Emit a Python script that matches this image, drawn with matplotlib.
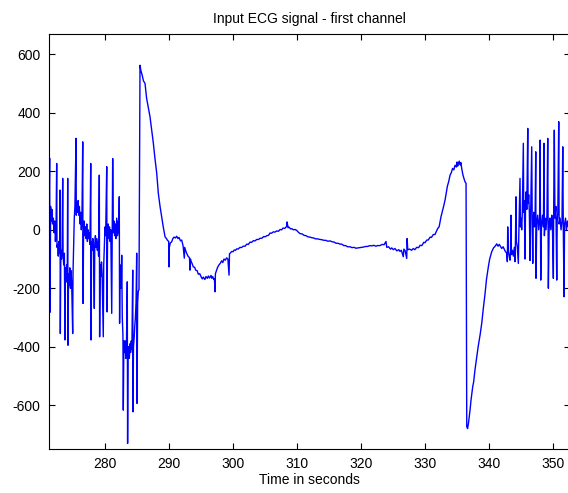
import numpy as np
import matplotlib.pyplot as plt

plt.rcParams['font.family'] = ['Liberation Sans', 'DejaVu Sans']
plt.rcParams['axes.unicode_minus'] = False

# (time in s, amplitude)
# noisy stretch before the first big deflection
onset = [
    (271.25, 60), (271.35, 245), (271.42, -282), (271.50, 80), (271.60, 30),
    (271.70, 70), (271.80, 20), (271.93, 40), (272.05, -10), (272.15, 30),
    (272.25, -40), (272.35, 0), (272.45, 227), (272.50, -60), (272.60, -50),
    (272.70, -90), (272.80, -40), (272.90, -80), (272.97, 136), (273.02, -355),
    (273.10, -70), (273.20, -100), (273.30, -60), (273.39, 176), (273.45, -90),
    (273.55, -120), (273.65, -80), (273.75, -377), (273.80, -130), (273.90, -170),
    (274.00, -120), (274.10, -180), (274.17, 176), (274.22, -395), (274.30, -150),
    (274.40, -190), (274.50, -130), (274.60, -200), (274.70, -140), (274.80, -190),
    (274.95, -355), (275.00, -150), (275.10, -60), (275.20, 40), (275.30, 80),
    (275.47, 313), (275.52, 50), (275.60, 90), (275.70, 60), (275.80, 100),
    (275.90, 50), (276.00, 80), (276.10, 20), (276.20, 60), (276.30, 0),
    (276.40, 40), (276.52, 301), (276.57, -252), (276.65, -10), (276.75, 30),
    (276.85, -20), (276.95, 10), (277.05, -30), (277.15, 20), (277.25, -40),
    (277.35, 0), (277.45, -30), (277.55, -10), (277.65, -50), (277.77, 227),
    (277.82, -377), (277.90, -40), (278.00, -70), (278.10, -30), (278.20, -60),
    (278.33, -269), (278.40, -50), (278.50, -20), (278.60, -60), (278.70, -30),
    (278.80, -70), (278.90, -40), (279.00, -90), (279.11, 187), (279.16, -366),
    (279.25, -120), (279.35, -160), (279.45, -110), (279.55, -150), (279.73, -366),
    (279.80, -120), (279.90, -60), (280.00, 10), (280.10, -20), (280.27, 216),
    (280.32, -281), (280.40, -20), (280.50, 20), (280.60, -30), (280.70, 10),
    (280.80, -40), (280.90, 0), (281.05, -286), (281.12, -10), (281.20, 244),
    (281.30, -10), (281.40, 30), (281.50, -20), (281.60, 20), (281.70, -30),
    (281.83, 40), (281.95, -20), (282.05, 30), (282.15, -10), (282.23, 113),
    (282.28, -320), (282.35, -120), (282.45, -200), (282.55, -180), (282.61, -87),
    (282.70, -300), (282.80, -360), (282.86, -617), (282.95, -380), (283.05, -420),
    (283.15, -380), (283.25, -440), (283.35, -400), (283.48, -178), (283.53, -731),
    (283.60, -430), (283.70, -400), (283.80, -440), (283.90, -390), (284.00, -420),
    (284.10, -380), (284.20, -410), (284.33, -138), (284.38, -623), (284.45, -400),
    (284.55, -370), (284.65, -330), (284.75, -300), (284.85, -250), (284.95, -80),
    (285.00, -594), (285.10, -250), (285.20, -210), (285.31, -205),
]

# big wave, slow baseline and the second deflection
wave = [
    (285.47, 563), (285.60, 545), (285.80, 530), (286.00, 510), (286.25, 501),
    (286.50, 450), (286.75, 420), (287.03, 387), (287.30, 340), (287.55, 297),
    (287.80, 245), (288.08, 194), (288.33, 125), (288.60, 80), (288.86, 44),
    (289.10, 10), (289.38, -24), (289.60, -30), (289.73, -35), (289.95, -40),
    (290.00, -127), (290.05, -60), (290.20, -45), (290.42, -41), (290.60, -30),
    (290.78, -25), (291.00, -28), (291.20, -22), (291.40, -30), (291.56, -26),
    (291.80, -38), (291.98, -35), (292.20, -55), (292.39, -97), (292.45, -60),
    (292.66, -75), (292.85, -85), (293.02, -92), (293.20, -95), (293.28, -138),
    (293.35, -100), (293.44, -108), (293.60, -115), (293.80, -127), (294.00, -128),
    (294.17, -138), (294.40, -140), (294.58, -152), (294.80, -150), (295.00, -160),
    (295.20, -168), (295.36, -162), (295.60, -170), (295.78, -160), (296.00, -166),
    (296.14, -158), (296.35, -165), (296.56, -156), (296.70, -166), (296.83, -160),
    (297.00, -170), (297.10, -168), (297.19, -212), (297.25, -150), (297.45, -138),
    (297.60, -128), (297.81, -120), (298.00, -115), (298.23, -106), (298.40, -112),
    (298.59, -100), (298.80, -104), (299.00, -96), (299.20, -100), (299.38, -155),
    (299.45, -82), (299.60, -79), (299.80, -74), (300.00, -75), (300.20, -69),
    (300.40, -70), (300.58, -65), (300.80, -66), (301.09, -60), (301.30, -61),
    (301.61, -56), (301.90, -56), (302.14, -49), (302.40, -50), (302.66, -42),
    (302.90, -43), (303.20, -37), (303.44, -38), (303.70, -33), (304.00, -33),
    (304.22, -29), (304.50, -29), (304.80, -23), (305.00, -24), (305.30, -20),
    (305.55, -19), (305.78, -11), (306.00, -12), (306.30, -7), (306.56, -8),
    (306.80, -4), (307.10, -5), (307.34, 1), (307.60, 0), (307.81, 6),
    (308.10, 5), (308.39, 12), (308.45, 27), (308.60, 7), (308.75, 9),
    (309.00, 3), (309.20, 4), (309.42, 0), (309.70, 1), (309.95, -2),
    (310.20, -8), (310.47, -13), (310.80, -14), (311.10, -19), (311.40, -20),
    (311.70, -24), (312.03, -25), (312.30, -27), (312.60, -28), (312.90, -31),
    (313.20, -31), (313.59, -33), (313.90, -34), (314.20, -36), (314.50, -36),
    (314.80, -39), (315.16, -38), (315.50, -41), (315.80, -42), (316.10, -46),
    (316.40, -46), (316.72, -49), (317.00, -49), (317.30, -54), (317.60, -54),
    (317.90, -58), (318.28, -58), (318.60, -61), (318.90, -60), (319.20, -63),
    (319.50, -62), (319.84, -61), (320.10, -60), (320.40, -59), (320.70, -57),
    (321.00, -57), (321.41, -54), (321.70, -55), (322.00, -53), (322.30, -56),
    (322.60, -54), (322.97, -54), (323.30, -50), (323.60, -51), (323.90, -40),
    (324.02, -60), (324.30, -58), (324.60, -66), (324.80, -62), (325.05, -68),
    (325.30, -64), (325.60, -72), (325.90, -68), (326.09, -74), (326.30, -70),
    (326.60, -92), (326.70, -66), (326.90, -72), (327.14, -98), (327.20, -30),
    (327.30, -68), (327.60, -66), (327.90, -70), (328.17, -64), (328.40, -68),
    (328.70, -60), (329.00, -61), (329.22, -53), (329.50, -54), (329.80, -43),
    (330.00, -44), (330.27, -35), (330.50, -35), (330.80, -25), (331.00, -26),
    (331.30, -16), (331.56, -16), (331.80, -4), (332.00, 5), (332.20, 10),
    (332.34, 27), (332.50, 45), (332.70, 62), (332.90, 80), (333.13, 102),
    (333.30, 125), (333.50, 150), (333.70, 165), (333.91, 187), (334.10, 195),
    (334.30, 210), (334.50, 205), (334.69, 221), (334.90, 215), (335.00, 232),
    (335.10, 218), (335.20, 227), (335.35, 235), (335.50, 222), (335.60, 230),
    (335.73, 210), (335.90, 190), (336.05, 178), (336.25, 164), (336.41, 159),
    (336.52, -674), (336.65, -680), (336.80, -660), (337.03, -617), (337.20, -580),
    (337.45, -537), (337.60, -520), (337.80, -480), (338.08, -435), (338.30, -400),
    (338.60, -360), (338.86, -320), (339.10, -270), (339.38, -218), (339.60, -170),
    (339.89, -127), (340.10, -100), (340.42, -75), (340.70, -62), (341.00, -55),
    (341.20, -48), (341.40, -56), (341.60, -50), (341.98, -64), (342.20, -58),
    (342.50, -72),
]

# noisy stretch at the end of the window
tail = [
    (342.77, -81), (342.86, -109), (342.92, 10), (343.00, -70), (343.15, -90),
    (343.28, -104), (343.35, -75), (343.44, 50), (343.50, -85), (343.65, -70),
    (343.80, -90), (343.95, -60), (344.06, -109), (344.12, -50), (344.22, 113),
    (344.28, -40), (344.40, -55), (344.58, -115), (344.65, -20), (344.84, 176),
    (344.90, 10), (345.00, 40), (345.10, 0), (345.20, 60), (345.36, 296),
    (345.42, 60), (345.50, 100), (345.63, -100), (345.70, 80), (345.80, 130),
    (345.90, 70), (346.05, 347), (346.10, 90), (346.20, 120), (346.30, 60),
    (346.40, -105), (346.50, 50), (346.67, 284), (346.75, 20), (346.83, -115),
    (346.90, 30), (347.00, 60), (347.10, 10), (347.20, 50), (347.30, 267),
    (347.34, -166), (347.45, 20), (347.60, 50), (347.75, 0), (347.90, 40),
    (347.97, 307), (348.08, -172), (348.20, 20), (348.35, 50), (348.50, 10),
    (348.59, 296), (348.65, -20), (348.75, 40), (348.90, 0), (349.05, 50),
    (349.17, 313), (349.27, -200), (349.40, 20), (349.50, 40), (349.65, 0),
    (349.80, 50), (349.90, 20), (350.05, -166), (350.10, 70), (350.20, 341),
    (350.30, 40), (350.45, 80), (350.58, -172), (350.65, 30), (350.75, 60),
    (350.89, 370), (350.95, 20), (351.10, 40), (351.25, 0), (351.40, 30),
    (351.52, 284), (351.60, 10), (351.72, -229), (351.80, 20), (351.95, 40),
    (352.10, 0), (352.25, 30), (352.40, 10), (352.60, 30),
]

xticks = [280, 290, 300, 310, 320, 330, 340, 350]
yticks = [-600, -400, -200, 0, 200, 400, 600]

t, ecg = np.array(onset + wave + tail).T

fig = plt.figure(figsize=(5.68, 4.93), dpi=100)
ax = fig.add_axes([49 / 568, 1 - 449 / 493, 521 / 568, 415 / 493])

ax.plot(t, ecg, color='#0000ff', lw=1.0)

ax.set_xlim(271.25, 352.65)
ax.set_ylim(-750, 670)
ax.set_xticks(xticks)
ax.set_yticks(yticks)
ax.tick_params(direction='in', length=4.5, width=0.8, top=True, right=True,
               labelsize=10, pad=6)
for s in ax.spines.values():
    s.set_linewidth(0.8)

ax.set_title('Input ECG signal - first channel', fontsize=10, pad=8)
ax.set_xlabel('Time in seconds', fontsize=10, labelpad=1)

fig.savefig('out.png', dpi=100)
